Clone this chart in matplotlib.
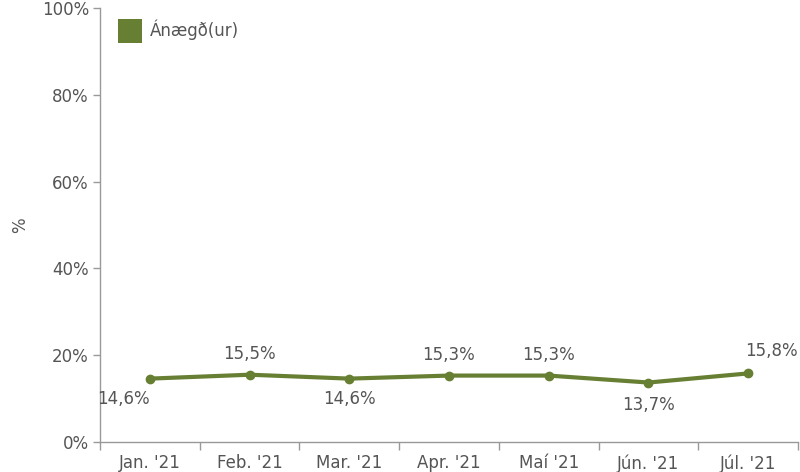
import matplotlib.pyplot as plt
from matplotlib.patches import Patch
from matplotlib.ticker import FixedLocator

# gögn
manudir = ['Jan. \'21', 'Feb. \'21', 'Mar. \'21', 'Apr. \'21', 'Maí \'21', 'Jún. \'21', 'Júl. \'21']
anaegd = [14.6, 15.5, 14.6, 15.3, 15.3, 13.7, 15.8]
merki_texti = ['14,6%', '15,5%', '14,6%', '15,3%', '15,3%', '13,7%', '15,8%']
# hvar merkin lenda miðað við punktinn (punktar)
merki_hlidrun = [(-19, -15), (0, 15), (0, -15), (0, 15), (0, 15), (0, -16), (17, 16)]

litur = '#677f33'
gratt = '#555555'
lina = '#999999'
fs = 12

plt.rcParams['font.family'] = ['DejaVu Sans']

fig = plt.figure(figsize=(8, 4.72), dpi=100)
ax = fig.add_axes([0.125, 0.0636, 0.8725, 0.9195])

x = list(range(len(manudir)))
ax.plot(x, anaegd, color=litur, linewidth=3, marker='o', markersize=6,
        solid_capstyle='round', zorder=3)

for i, (v, t, off) in enumerate(zip(anaegd, merki_texti, merki_hlidrun)):
    ax.annotate(t, (i, v), xytext=off, textcoords='offset points',
                ha='center', va='center', fontsize=fs, color=gratt)

ax.set_xlim(-0.5, len(manudir) - 0.5)
ax.set_ylim(0, 100)
ax.set_yticks([0, 20, 40, 60, 80, 100])
ax.set_yticklabels(['0%', '20%', '40%', '60%', '80%', '100%'])
ax.set_xticks(x)
ax.set_xticklabels(manudir)
ax.xaxis.set_minor_locator(FixedLocator([i - 0.5 for i in range(len(manudir) + 1)]))

ax.tick_params(axis='x', which='major', length=0, pad=9, labelsize=fs, labelcolor=gratt)
ax.tick_params(axis='x', which='minor', length=6, width=1, color=lina, direction='out')
ax.tick_params(axis='y', length=5, width=1, color=lina, pad=3, labelsize=fs, labelcolor=gratt)

for s in ['top', 'right']:
    ax.spines[s].set_visible(False)
for s in ['left', 'bottom']:
    ax.spines[s].set_color(lina)
    ax.spines[s].set_linewidth(1)

ax.set_ylabel('%', fontsize=fs, color=gratt, labelpad=9)

handle = Patch(facecolor=litur, edgecolor='none')
ax.legend([handle], ['Ánægð(ur)'], loc='upper left', frameon=False, fontsize=fs,
          handlelength=1.45, handleheight=1.9, handletextpad=0.45,
          bbox_to_anchor=(0.004, 1.01), labelcolor=gratt)

fig.savefig('out.png', dpi=100)
